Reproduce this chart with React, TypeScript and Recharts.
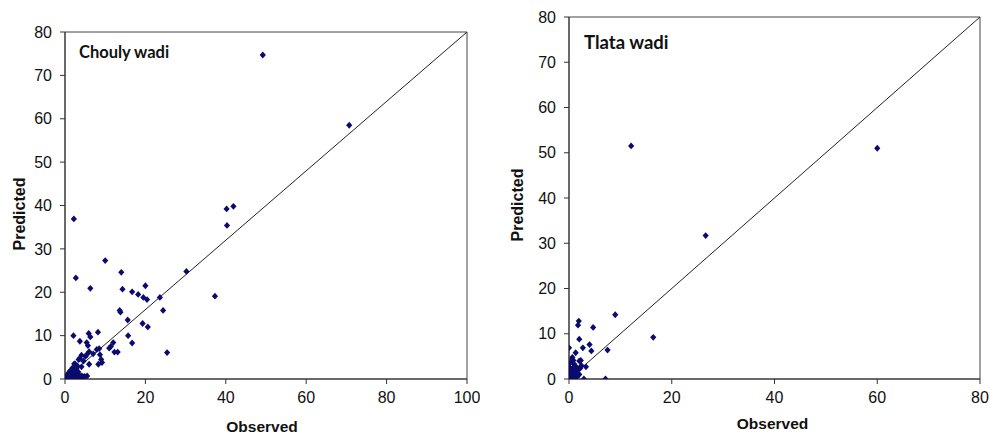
import React from "react"
import { ScatterChart, Scatter, XAxis, YAxis, ReferenceLine, ReferenceArea, Label } from "recharts"

// Chouly wadi: observed vs predicted
const choulyObserved = [
  49.2, 70.7, 40.2, 41.9, 40.3, 2.2, 30.2, 10.0, 2.7, 14.0, 6.3, 14.3, 16.7, 20.0, 18.2, 19.5, 20.4, 23.6, 37.3,
  13.6, 13.8, 24.4, 15.6, 19.3, 20.6, 15.7, 16.7, 25.4, 2.1, 8.2, 5.9, 6.3, 3.7, 5.4, 5.7, 12.0, 7.9, 8.5, 11.0,
  11.4, 12.3, 13.1, 6.0, 7.0, 8.7, 4.1, 5.1, 3.4, 4.6, 9.0, 9.2, 8.3, 6.0, 2.3, 3.1, 4.1,
  0.3, 0.5, 0.7, 0.8, 1.0, 1.1, 1.3, 1.4, 1.5, 1.6, 1.8, 1.9, 2.0, 2.1, 2.2, 2.3, 2.5, 2.6, 2.7, 2.8, 3.0, 3.1,
  3.2, 3.4, 3.5, 3.7, 3.8, 4.0, 4.2, 4.4, 4.6, 1.2, 1.7, 2.4, 2.9, 0.6, 3.3, 1.9, 4.9, 0.9, 5.5, 2.5, 3.7, 5.4
]
const choulyPredicted = [
  74.7, 58.5, 39.2, 39.8, 35.4, 36.9, 24.8, 27.3, 23.3, 24.6, 20.9, 20.7, 20.1, 21.5, 19.5, 18.8, 18.3, 18.8, 19.1,
  15.8, 15.4, 15.8, 13.6, 12.8, 12.0, 10.0, 8.3, 6.1, 10.0, 10.8, 10.5, 9.7, 8.7, 8.4, 7.7, 8.4, 6.8, 7.0, 7.1,
  7.5, 6.2, 6.2, 6.3, 5.8, 5.6, 5.5, 5.2, 4.5, 4.1, 4.5, 3.8, 3.4, 3.4, 3.5, 3.0, 2.8,
  0.1, 0.3, 0.2, 0.6, 0.4, 0.9, 0.2, 0.7, 1.2, 0.5, 0.9, 0.3, 1.5, 0.7, 1.1, 0.4, 0.8, 1.3, 0.2, 0.6, 0.9, 0.3,
  1.0, 0.5, 0.8, 0.2, 0.6, 0.4, 0.7, 0.3, 0.5, 1.8, 2.1, 1.9, 2.3, 1.0, 1.6, 2.6, 0.6, 1.4, 0.7, 3.5, 4.7, 5.6
]

// Tlata wadi: observed vs predicted
const tlataObserved = [
  12.1, 60.0, 26.6, 9.0, 16.4, 1.9, 1.75, 4.7, 2.0, 4.0, 2.7, 4.35, 7.5, 0.0, 1.3, 0.65, 0.85, 2.0, 2.3, 3.3, 2.9, 7.1,
  0.0, 0.1, 0.2, 0.3, 0.1, 0.4, 0.5, 0.6, 0.7, 0.8, 0.9, 1.0, 1.1, 1.2, 1.3, 1.4, 1.5, 1.6, 1.8, 2.0, 2.2, 0.3,
  0.2, 1.0, 2.4, 0.6
]
const tlataPredicted = [
  51.5, 51.0, 31.7, 14.2, 9.2, 12.8, 11.9, 11.4, 8.8, 7.6, 6.9, 6.2, 6.4, 6.9, 5.8, 4.8, 4.1, 4.0, 4.1, 2.7, 0.0, 0.0,
  0.0, 0.5, 1.2, 2.0, 2.6, 0.3, 1.6, 0.8, 2.4, 0.2, 1.3, 3.3, 0.6, 1.9, 1.0, 2.7, 0.4, 1.5, 2.1, 1.0, 2.4, 3.6,
  0.0, 0.0, 3.0, 4.4
]

const choulyXTicks = [0, 20, 40, 60, 80, 100]
const tlataXTicks = [0, 20, 40, 60, 80]
const yTicks = [0, 10, 20, 30, 40, 50, 60, 70, 80]

const choulyData = choulyObserved.map((x, i) => ({ x, y: choulyPredicted[i] }))
const tlataData = tlataObserved.map((x, i) => ({ x, y: tlataPredicted[i] }))

const FONT = "'Liberation Sans', Arial, sans-serif"
const tickStyle = { fontSize: 16, fill: "#111", fontFamily: FONT }

const Diamond = (p: any) => {
  const { cx, cy } = p
  return <path d={`M${cx},${cy - 3.4}L${cx + 3.1},${cy}L${cx},${cy + 3.4}L${cx - 3.1},${cy}Z`} fill="#0b0b6e" />
}

const yTitle = (dx: number, dy: number) => (props: any) => {
  const vb = props.viewBox || {}
  const cx = vb.x + dx
  const cy = vb.y + vb.height / 2 + dy
  return (
    <text x={cx} y={cy} transform={`rotate(-90 ${cx} ${cy})`} textAnchor="middle" dominantBaseline="central"
      fontFamily={FONT} fontWeight="bold" fontSize={16} fill="#111">Predicted</text>
  )
}

const xTitle = (dx: number, baseline: number) => (props: any) => {
  const vb = props.viewBox || {}
  return (
    <text x={vb.x + vb.width / 2 + dx} y={vb.y + baseline} textAnchor="middle"
      fontFamily={FONT} fontWeight="bold" fontSize={15.5} fill="#111">Observed</text>
  )
}

const panelTitle = (text: string, dx: number, dy: number, size: number) => (props: any) => {
  const vb = props.viewBox || {}
  return (
    <text x={vb.x + dx} y={vb.y + dy} fontFamily="Lato, 'Open Sans', sans-serif" fontWeight="bold"
      fontSize={size} fill="#111">{text}</text>
  )
}

function Panel({ data, xMax, xTicks, title, titleSize, width, margin, yWidth, yT, xT, tT }: any) {
  return (
    <ScatterChart width={width} height={434} margin={margin}>
      <XAxis type="number" dataKey="x" domain={[0, xMax]} ticks={xTicks} allowDataOverflow
        tick={tickStyle} tickSize={5} tickMargin={8} height={55}
        axisLine={{ stroke: "#333" }} tickLine={{ stroke: "#333" }}>
        <Label content={xTitle(xT[0], xT[1])} />
      </XAxis>
      <YAxis type="number" dataKey="y" domain={[0, 80]} ticks={yTicks} allowDataOverflow
        tick={tickStyle} tickSize={5} tickMargin={8} width={yWidth}
        axisLine={{ stroke: "#333" }} tickLine={{ stroke: "#333" }}>
        <Label content={yTitle(yT[0], yT[1])} />
      </YAxis>
      <ReferenceArea x1={0} x2={xMax} y1={0} y2={80} fill="none" fillOpacity={0} stroke="#444" strokeWidth={1}>
        <Label content={panelTitle(title, tT[0], tT[1], titleSize)} />
      </ReferenceArea>
      <ReferenceLine segment={[{ x: 0, y: 0 }, { x: xMax, y: 80 }]} stroke="#222" strokeWidth={1} />
      <Scatter data={data} shape={Diamond} isAnimationActive={false} />
    </ScatterChart>
  )
}

export default function App() {
  return (
    <div style={{ position: "absolute", left: 0, top: 0, width: 990, height: 434, background: "#fff" }}>
      <div style={{ position: "absolute", left: 0, top: 0 }}>
        <Panel data={choulyData} xMax={100} xTicks={choulyXTicks} title="Chouly wadi" titleSize={16.5} width={480}
          margin={{ top: 32, right: 13, left: 0, bottom: 0 }} yWidth={65}
          yT={[19, 8.5]} xT={[-4, 53]} tT={[14, 26]} />
      </div>
      <div style={{ position: "absolute", left: 495, top: 0 }}>
        <Panel data={tlataData} xMax={80} xTicks={tlataXTicks} title="Tlata wadi" titleSize={18.5} width={495}
          margin={{ top: 17, right: 10, left: 0, bottom: 0 }} yWidth={74}
          yT={[22.5, 7]} xT={[-2, 50]} tT={[15, 32]} />
      </div>
    </div>
  )
}
